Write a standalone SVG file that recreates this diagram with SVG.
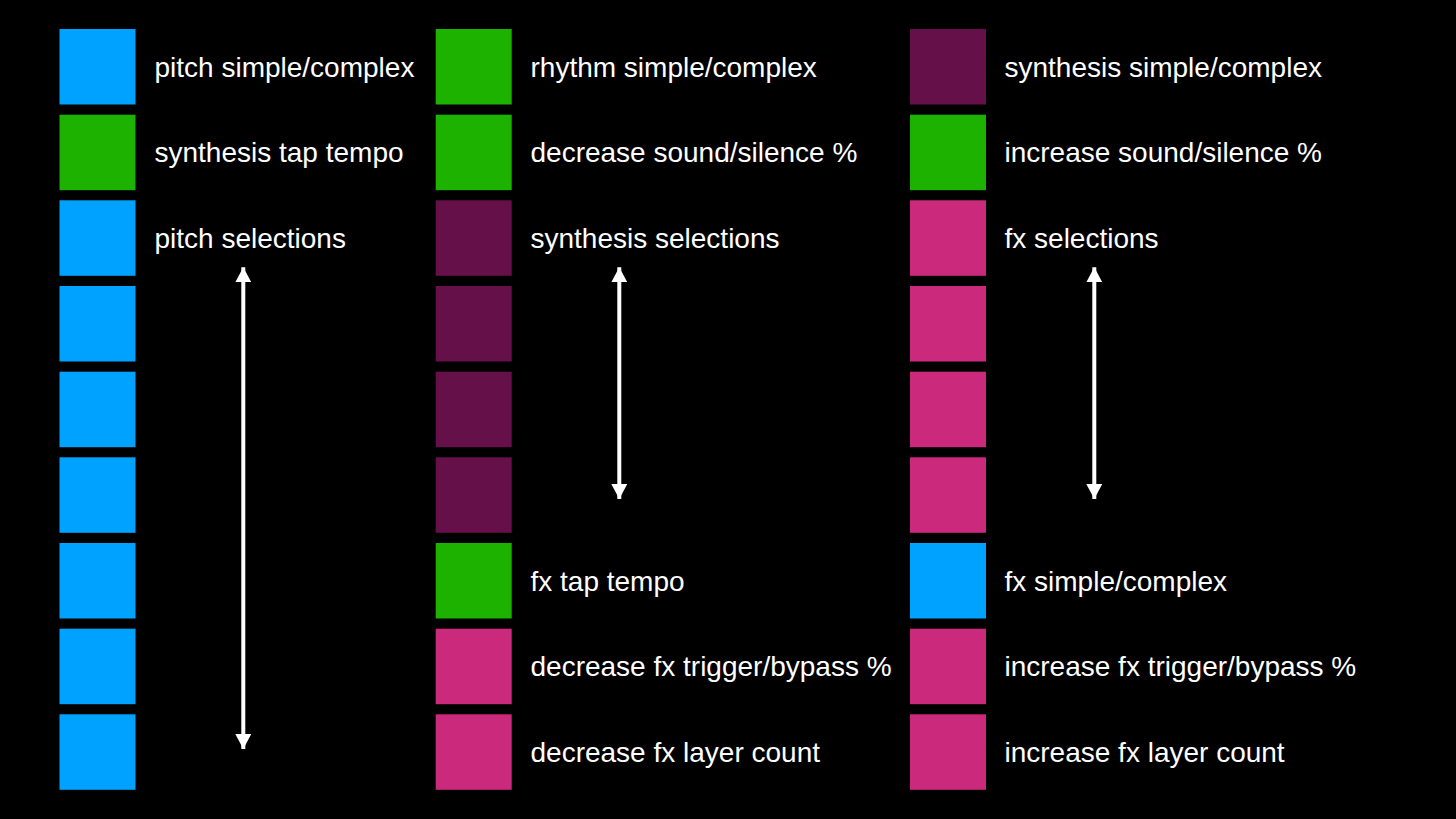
<svg xmlns="http://www.w3.org/2000/svg" width="1456" height="819" viewBox="0 0 1456 819">
<defs>
<style>
.t{font-family:"Liberation Sans",Arial,sans-serif;font-size:28px;fill:#ffffff}
.b{fill:#00A2FF}.g{fill:#1DB100}.p{fill:#66104A}.k{fill:#CB297B}
.a{stroke:#ffffff;stroke-width:4;fill:none}
</style>
<marker id="ah" viewBox="0 0 15 16" refX="15" refY="8" markerWidth="15" markerHeight="16" markerUnits="userSpaceOnUse" orient="auto-start-reverse"><path d="M0,0 L15,8 L0,16 Z" fill="#ffffff"/></marker>
</defs>
<rect width="1456" height="819" fill="#000000"/>
<g id="col1">
<g id="c1r1"><rect class="b" x="59.5" y="29" width="76" height="75.5"/><text class="t" x="154.5" y="76.5">pitch simple/complex</text></g>
<g id="c1r2"><rect class="g" x="59.5" y="114.7" width="76" height="75.5"/><text class="t" x="154.5" y="162.2">synthesis tap tempo</text></g>
<g id="c1r3"><rect class="b" x="59.5" y="200.3" width="76" height="75.5"/><text class="t" x="154.5" y="247.8">pitch selections</text></g>
<g id="c1r4"><rect class="b" x="59.5" y="286" width="76" height="75.5"/></g>
<g id="c1r5"><rect class="b" x="59.5" y="371.7" width="76" height="75.5"/></g>
<g id="c1r6"><rect class="b" x="59.5" y="457.3" width="76" height="75.5"/></g>
<g id="c1r7"><rect class="b" x="59.5" y="543" width="76" height="75.5"/></g>
<g id="c1r8"><rect class="b" x="59.5" y="628.7" width="76" height="75.5"/></g>
<g id="c1r9"><rect class="b" x="59.5" y="714.3" width="76" height="75.5"/></g>
</g>
<g id="col2">
<g id="c2r1"><rect class="g" x="435.7" y="29" width="76" height="75.5"/><text class="t" x="530.5" y="76.5">rhythm simple/complex</text></g>
<g id="c2r2"><rect class="g" x="435.7" y="114.7" width="76" height="75.5"/><text class="t" x="530.5" y="162.2">decrease sound/silence %</text></g>
<g id="c2r3"><rect class="p" x="435.7" y="200.3" width="76" height="75.5"/><text class="t" x="530.5" y="247.8">synthesis selections</text></g>
<g id="c2r4"><rect class="p" x="435.7" y="286" width="76" height="75.5"/></g>
<g id="c2r5"><rect class="p" x="435.7" y="371.7" width="76" height="75.5"/></g>
<g id="c2r6"><rect class="p" x="435.7" y="457.3" width="76" height="75.5"/></g>
<g id="c2r7"><rect class="g" x="435.7" y="543" width="76" height="75.5"/><text class="t" x="530.5" y="590.5">fx tap tempo</text></g>
<g id="c2r8"><rect class="k" x="435.7" y="628.7" width="76" height="75.5"/><text class="t" x="530.5" y="676.2">decrease fx trigger/bypass %</text></g>
<g id="c2r9"><rect class="k" x="435.7" y="714.3" width="76" height="75.5"/><text class="t" x="530.5" y="761.8">decrease fx layer count</text></g>
</g>
<g id="col3">
<g id="c3r1"><rect class="p" x="910" y="29" width="76" height="75.5"/><text class="t" x="1004.5" y="76.5">synthesis simple/complex</text></g>
<g id="c3r2"><rect class="g" x="910" y="114.7" width="76" height="75.5"/><text class="t" x="1004.5" y="162.2">increase sound/silence %</text></g>
<g id="c3r3"><rect class="k" x="910" y="200.3" width="76" height="75.5"/><text class="t" x="1004.5" y="247.8">fx selections</text></g>
<g id="c3r4"><rect class="k" x="910" y="286" width="76" height="75.5"/></g>
<g id="c3r5"><rect class="k" x="910" y="371.7" width="76" height="75.5"/></g>
<g id="c3r6"><rect class="k" x="910" y="457.3" width="76" height="75.5"/></g>
<g id="c3r7"><rect class="b" x="910" y="543" width="76" height="75.5"/><text class="t" x="1004.5" y="590.5">fx simple/complex</text></g>
<g id="c3r8"><rect class="k" x="910" y="628.7" width="76" height="75.5"/><text class="t" x="1004.5" y="676.2">increase fx trigger/bypass %</text></g>
<g id="c3r9"><rect class="k" x="910" y="714.3" width="76" height="75.5"/><text class="t" x="1004.5" y="761.8">increase fx layer count</text></g>
</g>
<g id="connectors">
<line class="a" x1="243.3" y1="267.3" x2="243.3" y2="749" marker-start="url(#ah)" marker-end="url(#ah)"/>
<line class="a" x1="619.3" y1="267.3" x2="619.3" y2="499" marker-start="url(#ah)" marker-end="url(#ah)"/>
<line class="a" x1="1094.3" y1="267.3" x2="1094.3" y2="499" marker-start="url(#ah)" marker-end="url(#ah)"/>
</g>
</svg>
